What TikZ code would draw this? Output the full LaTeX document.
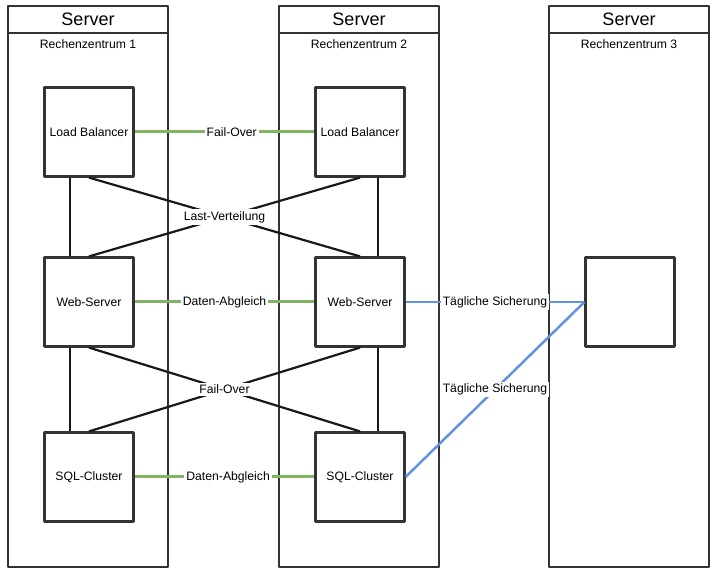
\documentclass[tikz,border=0pt]{standalone}
\usepackage{fontspec}
\setmainfont{Liberation Sans}
\definecolor{frame}{RGB}{51,51,51}
\definecolor{sync}{RGB}{130,179,102}
\definecolor{backup}{RGB}{100,145,225}
\begin{document}
\begin{tikzpicture}[x=1pt,y=-1pt,line join=round,font=\fontsize{12.2}{14}\selectfont,
  box/.style={draw=frame,line width=2.2pt,fill=white,minimum size=89pt,inner sep=0pt},
  link/.style={draw=black!90,line width=2.2pt},
  syncline/.style={draw=sync,line width=3pt},
  backupline/.style={draw=backup,line width=2.5pt},
  tag/.style={fill=white,inner sep=2pt,text=black}]
\useasboundingbox (0,0) rectangle (716,572);
% Rechenzentren
\foreach \x/\n in {8/1,279/2,549/3}{
  \draw[frame,line width=2.2pt] (\x,6) rectangle ++(160,561) (\x,33) -- ++(160,0);
  \node[font=\fontsize{18}{20}\selectfont] at (\x+80,19.5) {Server};
  \node at (\x+80,44.5) {Rechenzentrum \n};
}
\node[box] (lb1) at (89,132) {Load Balancer};
\node[box] (lb2) at (360,132) {Load Balancer};
\node[box] (web1) at (89,302) {Web-Server};
\node[box] (web2) at (360,302) {Web-Server};
\node[box] (sql1) at (89,477) {SQL-Cluster};
\node[box] (sql2) at (360,477) {SQL-Cluster};
\node[box] (bak) at (630,302) {};
% Last-Verteilung
\draw[link] ([xshift=-19pt]lb1.south) -- ([xshift=-19pt]web1.north);
\draw[link] ([xshift=18pt]lb2.south) -- ([xshift=18pt]web2.north);
\draw[link] (lb1.south) -- (web2.north);
\draw[link] (lb2.south) -- (web1.north) node[tag,midway] {Last-Verteilung};
% Fail-Over
\draw[link] ([xshift=-19pt]web1.south) -- ([xshift=-19pt]sql1.north);
\draw[link] ([xshift=18pt]web2.south) -- ([xshift=18pt]sql2.north);
\draw[link] (web1.south) -- (sql2.north);
\draw[link] (web2.south) -- (sql1.north) node[tag,midway] {Fail-Over};
% Abgleich
\draw[syncline] (lb1) -- node[tag,pos=.54] {Fail-Over} (lb2);
\draw[syncline] (web1) -- node[tag] {Daten-Abgleich} (web2);
\draw[syncline] (sql1) -- node[tag,pos=.52] {Daten-Abgleich} (sql2);
% Sicherung
\draw[backupline] (web2) -- node[tag] {Tägliche Sicherung} (bak);
\draw[backupline] (sql2.east) -- node[tag] {Tägliche Sicherung} (bak.west);
\end{tikzpicture}
\end{document}
